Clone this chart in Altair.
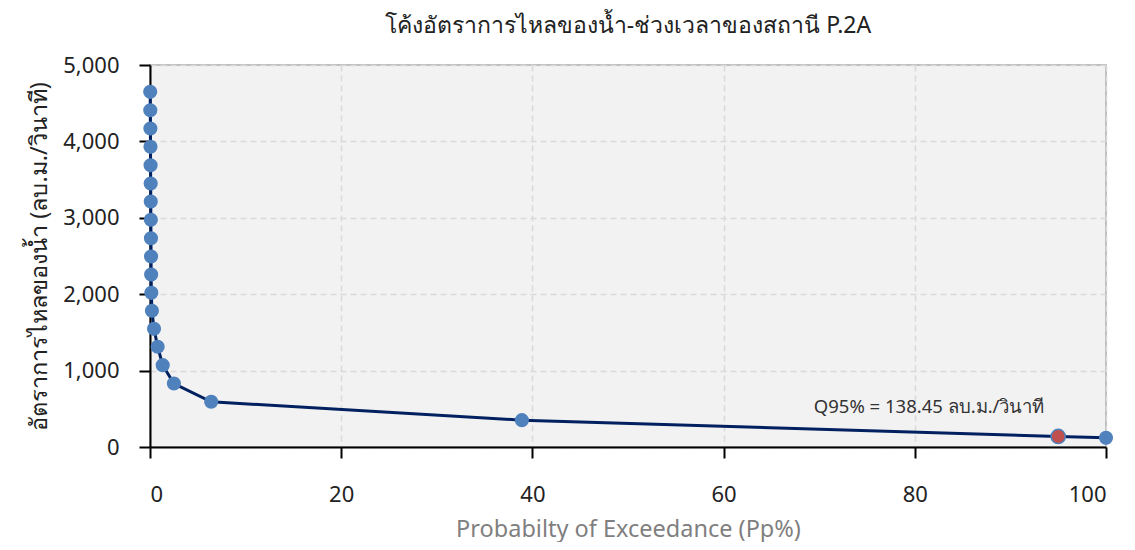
import altair as alt
import pandas as pd

# Flow-duration data (probability of exceedance %, discharge m3/s)
prob = [0.02, 0.03, 0.04, 0.05, 0.06, 0.07, 0.08, 0.09, 0.10, 0.11, 0.12,
        0.14, 0.20, 0.42, 0.80, 1.33, 2.50, 6.40, 38.9, 95.0, 100.0]
flow = [4649, 4408, 4169, 3929, 3688, 3449, 3213, 2974, 2733, 2493, 2258,
        2018, 1783, 1547, 1312, 1071, 831, 592, 351, 138.45, 120]

q95_prob = [95.0]
q95_flow = [138.45]

note_x = [81.5]
note_y = [520]
note_text = ["Q95% = 138.45 ลบ.ม./วินาที"]

df = pd.DataFrame({"p": prob, "q": flow})
dq = pd.DataFrame({"p": q95_prob, "q": q95_flow})
dn = pd.DataFrame({"p": note_x, "q": note_y, "t": note_text})

FONT = "Noto Sans"

xs = alt.Scale(domain=[0, 100], nice=False, zero=False)
ys = alt.Scale(domain=[0, 5000], nice=False)

xax = alt.Axis(values=[0, 20, 40, 60, 80, 100], title="Probabilty of Exceedance (Pp%)",
               grid=True, gridDash=[6, 4], gridColor="#D9D9D9", gridWidth=1.5,
               domainColor="#000000", domainWidth=2, tickColor="#000000", tickWidth=2,
               tickSize=11, labelPadding=26, labelFontSize=22, labelColor="#222222",
               titleFontSize=23.5, titleColor="#7F7F7F", titleFontWeight="normal",
               titlePadding=12, labelFont=FONT, titleFont=FONT)
yax = alt.Axis(values=[0, 1000, 2000, 3000, 4000, 5000], format=",.0f",
               title="อัตราการไหลของน้ำ (ลบ.ม./วินาที)",
               grid=True, gridDash=[6, 4], gridColor="#D9D9D9", gridWidth=1.5,
               domainColor="#000000", domainWidth=2, tickColor="#000000", tickWidth=2,
               tickSize=11, labelPadding=20, labelFontSize=22, labelColor="#222222",
               titleFontSize=23.5, titleColor="#222222", titleFontWeight="normal",
               titlePadding=11, labelFont=FONT, titleFont=FONT)

base = alt.Chart(df).encode(x=alt.X("p:Q", scale=xs, axis=xax), y=alt.Y("q:Q", scale=ys, axis=yax))

line = base.mark_line(color="#002060", strokeWidth=3)
pts = base.mark_point(filled=True, color="#4F81BD", size=200, opacity=1)
red = alt.Chart(dq).mark_point(filled=True, color="#C0504D", size=200, opacity=1,
                               stroke="#4F81BD", strokeWidth=1.5).encode(
    x=alt.X("p:Q", scale=xs), y=alt.Y("q:Q", scale=ys))
note = alt.Chart(dn).mark_text(fontSize=18.5, font=FONT, color="#333333", align="center",
                               baseline="middle").encode(
    x=alt.X("p:Q", scale=xs), y=alt.Y("q:Q", scale=ys), text="t:N")

chart = alt.layer(line, pts, red, note).properties(
    width=956, height=382,
    title=alt.TitleParams("โค้งอัตราการไหลของน้ำ-ช่วงเวลาของสถานี P.2A", fontSize=23,
                          font=FONT, fontWeight="normal", color="#222222",
                          anchor="middle", offset=16),
    autosize=alt.AutoSizeParams(type="none"),
    padding={"left": 142, "top": 57, "right": 20, "bottom": 95},
    background="white",
).configure_view(fill="#F2F2F2", stroke="#BFBFBF", strokeWidth=2)

chart.save("out.html", embed_options={"renderer": "svg", "actions": False})
